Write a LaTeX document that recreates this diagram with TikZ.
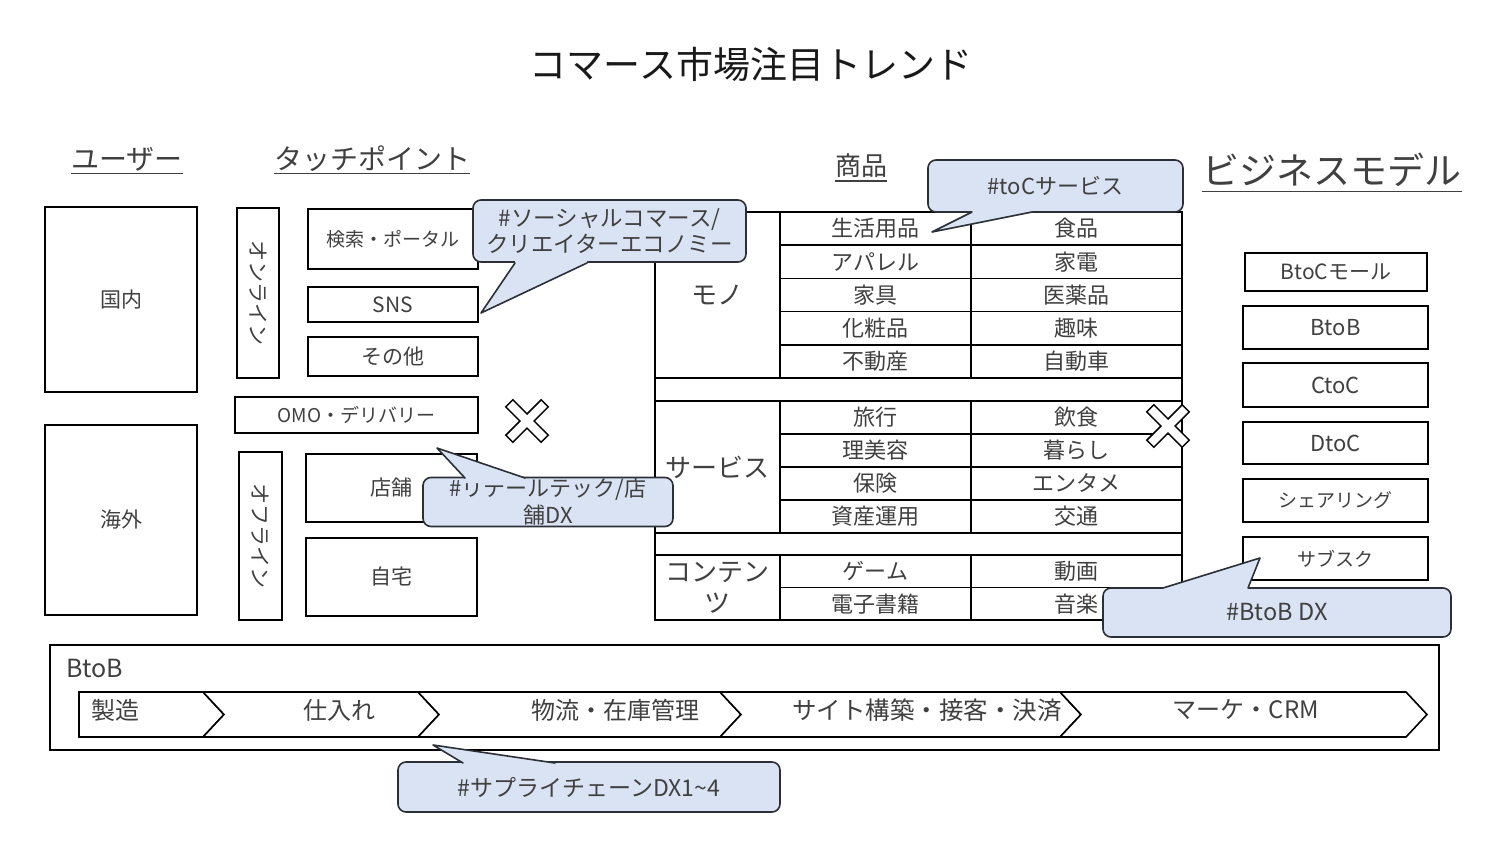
\documentclass[tikz,border=0pt]{standalone}
\usepackage{fontspec}
\setmainfont{Noto Sans CJK JP}
\usetikzlibrary{calc}
\newcommand\fsz[2]{\fontsize{#1pt}{#2pt}\selectfont}
\definecolor{tgray}{HTML}{404040}
\definecolor{cfill}{HTML}{DAE3F3}
\definecolor{cline}{HTML}{2B2F36}
\tikzset{
 bx/.style={draw=black, line width=1.6pt, fill=white, inner sep=0pt, text=tgray, font=\fsz{21}{25}},
 cell/.style={bx, font=\fsz{22}{26}},
 lab/.style={bx, font=\fsz{26}{31}, align=center},
 hdr/.style={inner sep=0pt, text=tgray},
 uline/.style={draw=tgray, line width=1.3pt},
 txt/.style={inner sep=0pt, text=tgray},
 cal/.style={draw=cline, fill=cfill, line width=1.6pt, rounded corners=8pt, inner sep=0pt, text=tgray, font=\fsz{22}{27}, align=center},
 ptr/.style={fill=cfill},
 ptrline/.style={draw=cline, line width=1.6pt, line join=round, line cap=round},
 chev/.style={draw=black, line width=1.6pt, fill=white, line join=miter},
 xmark/.style={draw=black, line width=1.5pt, fill=white, line join=miter},
}
\begin{document}
\begin{tikzpicture}[x=1pt,y=-1pt]
\useasboundingbox (0,0) rectangle (1502,846);
\fill[white] (0,0) rectangle (1502,846);

% title
\node[inner sep=0pt, font=\fsz{37}{44}, text=black!90] (title) at (751,64) {コマース市場注目トレンド};

% headers
\node[hdr, font=\fsz{28}{33}] (huser) at (127,159) {ユーザー};
\draw[uline] ([yshift=-4pt]huser.base west) -- ([yshift=-4pt]huser.base east);
\node[hdr, font=\fsz{28}{33}] (htouch) at (372,159) {タッチポイント};
\draw[uline] ([yshift=-4pt]htouch.base west) -- ([yshift=-4pt]htouch.base east);
\node[hdr, font=\fsz{26}{31}] (hgoods) at (861,166) {商品};
\draw[uline] ([yshift=-5pt]hgoods.base west) -- ([yshift=-5pt]hgoods.base east);
\node[hdr, font=\fsz{37}{44}] (hbiz) at (1332,170) {ビジネスモデル};
\draw[uline] ([yshift=-7pt]hbiz.base west) -- ([yshift=-7pt]hbiz.base east);

% users
\node[bx, minimum width=152pt, minimum height=185pt] (dom) at (121,299.5) {国内};
\node[bx, minimum width=152pt, minimum height=190pt] (abr) at (121,520) {海外};

% touch points
\node[bx, rotate=-90, minimum width=170pt, minimum height=42pt] (online) at (258,293) {オンライン};
\node[bx, rotate=-90, minimum width=168pt, minimum height=43pt] (offline) at (260.5,536) {オフライン};
\node[bx, font=\fsz{19}{23}, minimum width=170pt, minimum height=60pt] (search) at (393,239) {検索・ポータル};
\node[bx, minimum width=170pt, minimum height=35pt] (sns) at (393,304.5) {SNS};
\node[bx, minimum width=170pt, minimum height=39pt] (other) at (393,356.5) {その他};
\node[bx, font=\fsz{19}{23}, minimum width=243pt, minimum height=36pt] (omo) at (356.5,415) {OMO・デリバリー};
\node[bx, minimum width=171pt, minimum height=68pt] (store) at (391.5,488) {店舗};
\node[bx, minimum width=171pt, minimum height=78pt] (home) at (391.5,577) {自宅};

% goods table
\node[lab, minimum width=125pt, minimum height=166pt] (mono) at (717.5,295) {モノ};
\node[lab, minimum width=125pt, minimum height=132pt] (serv) at (717.5,467) {サービス};
\node[lab, minimum width=125pt, minimum height=65pt] (cont) at (717.5,587.5) {コンテン\\ツ};
\node[bx, minimum width=527pt, minimum height=23pt] (gap1) at (918.5,389.5) {};
\node[bx, minimum width=527pt, minimum height=22pt] (gap2) at (918.5,544) {};
\foreach \a/\b [count=\i] in {生活用品/食品, アパレル/家電, 家具/医薬品, 化粧品/趣味, 不動産/自動車}{
  \node[cell, minimum width=191pt, minimum height=33.2pt] (ma\i) at (875.5,{212+33.2*(\i-0.5)}) {\a};
  \node[cell, minimum width=211pt, minimum height=33.2pt] (mb\i) at (1076.5,{212+33.2*(\i-0.5)}) {\b};
}
\foreach \a/\b [count=\i] in {旅行/飲食, 理美容/暮らし, 保険/エンタメ, 資産運用/交通}{
  \node[cell, minimum width=191pt, minimum height=33pt] (sa\i) at (875.5,{401+33*(\i-0.5)}) {\a};
  \node[cell, minimum width=211pt, minimum height=33pt] (sb\i) at (1076.5,{401+33*(\i-0.5)}) {\b};
}
\foreach \a/\b [count=\i] in {ゲーム/動画, 電子書籍/音楽}{
  \node[cell, minimum width=191pt, minimum height=32.5pt] (ca\i) at (875.5,{555+32.5*(\i-0.5)}) {\a};
  \node[cell, minimum width=211pt, minimum height=32.5pt] (cb\i) at (1076.5,{555+32.5*(\i-0.5)}) {\b};
}

% business models
\node[bx, font=\fsz{21}{25}, minimum width=182pt, minimum height=38pt] (bm1) at (1336,272) {BtoCモール};
\node[bx, font=\fsz{22}{26}, minimum width=185pt, minimum height=43pt] (bm2) at (1335.5,327.5) {BtoB};
\node[bx, font=\fsz{22}{26}, minimum width=185pt, minimum height=44pt] (bm3) at (1335.5,385) {CtoC};
\node[bx, font=\fsz{22}{26}, minimum width=185pt, minimum height=42pt] (bm4) at (1335.5,443) {DtoC};
\node[bx, font=\fsz{19}{23}, minimum width=185pt, minimum height=43pt] (bm5) at (1335.5,500.5) {シェアリング};
\node[bx, font=\fsz{19}{23}, minimum width=185pt, minimum height=43pt] (bm6) at (1335.5,558.5) {サブスク};

% BtoB value chain
\node[bx, minimum width=1389pt, minimum height=105pt] (btob) at (744.5,697.5) {};
\node[txt, font=\fsz{25}{30}, anchor=west] (btobl) at (66,668) {BtoB};
\draw[chev] (79,692) -- (203,692) -- (224,714.5) -- (203,737) -- (79,737) -- cycle;
\draw[chev] (203,692) -- (418,692) -- (439,714.5) -- (418,737) -- (203,737) -- (224,714.5) -- cycle;
\draw[chev] (418,692) -- (720,692) -- (741,714.5) -- (720,737) -- (418,737) -- (439,714.5) -- cycle;
\draw[chev] (720,692) -- (1060,692) -- (1081,714.5) -- (1060,737) -- (720,737) -- (741,714.5) -- cycle;
\draw[chev] (1060,692) -- (1406,692) -- (1427,714.5) -- (1406,737) -- (1060,737) -- (1081,714.5) -- cycle;
\node[txt, font=\fsz{24}{28}] (v1) at (115,710) {製造};
\node[txt, font=\fsz{24}{28}] (v2) at (339,710) {仕入れ};
\node[txt, font=\fsz{24}{28}] (v3) at (615,710) {物流・在庫管理};
\node[txt, font=\fsz{24.5}{28}] (v4) at (927,710) {サイト構築・接客・決済};
\node[txt, font=\fsz{24}{28}] (v5) at (1246,710) {マーケ・CRM};

% cross marks
\begin{scope}[shift={(527,421)}, rotate=45]
\draw[xmark] (5,25) -- (5,5) -- (25,5) -- (25,-5) -- (5,-5) -- (5,-25) -- (-5,-25) -- (-5,-5) -- (-25,-5) -- (-25,5) -- (-5,5) -- (-5,25) -- cycle;
\end{scope}
\begin{scope}[shift={(1168,426)}, rotate=45]
\draw[xmark] (5,25) -- (5,5) -- (25,5) -- (25,-5) -- (5,-5) -- (5,-25) -- (-5,-25) -- (-5,-5) -- (-25,-5) -- (-25,5) -- (-5,5) -- (-5,25) -- cycle;
\end{scope}

% callouts
\node[cal, font=\fsz{22.5}{26}, minimum width=273pt, minimum height=62pt] (c1) at (609.5,231) {\#ソーシャルコマース/\\クリエイターエコノミー};
\coordinate (t1) at (481,313);
\fill[ptr] (515,258) -- (515,263) -- (t1) -- (587,263) -- (587,258) -- cycle;
\draw[ptrline] (515,263) -- (t1) -- (587,263);

\node[cal, minimum width=255pt, minimum height=52pt] (c2) at (1055.5,186) {\#toCサービス};
\coordinate (t2) at (932,232);
\fill[ptr] (972,207) -- (972,212) -- (t2) -- (1032,212) -- (1032,207) -- cycle;
\draw[ptrline] (972,212) -- (t2) -- (1032,212);

\node[cal, minimum width=250pt, minimum height=49pt] (c3) at (548,502) {\#リテールテック/店\\舗DX};
\coordinate (t3) at (437,448);
\fill[ptr] (465,483) -- (465,478) -- (t3) -- (525,478) -- (525,483) -- cycle;
\draw[ptrline] (465,478) -- (t3) -- (525,478);

\node[cal, font=\fsz{23.5}{28}, minimum width=348pt, minimum height=49pt] (c4) at (1277,612.5) {\#BtoB DX};
\coordinate (t4) at (1260,558);
\fill[ptr] (1163,593) -- (1163,588) -- (t4) -- (1248,588) -- (1248,593) -- cycle;
\draw[ptrline] (1163,588) -- (t4) -- (1248,588);

\node[cal, font=\fsz{23}{28}, minimum width=382pt, minimum height=50pt] (c5) at (589,787) {\#サプライチェーンDX1\textasciitilde 4};
\coordinate (t5) at (433,745);
\fill[ptr] (463,768) -- (463,763) -- (t5) -- (555,763) -- (555,768) -- cycle;
\draw[ptrline] (463,763) -- (t5) -- (555,763);
\end{tikzpicture}
\end{document}
